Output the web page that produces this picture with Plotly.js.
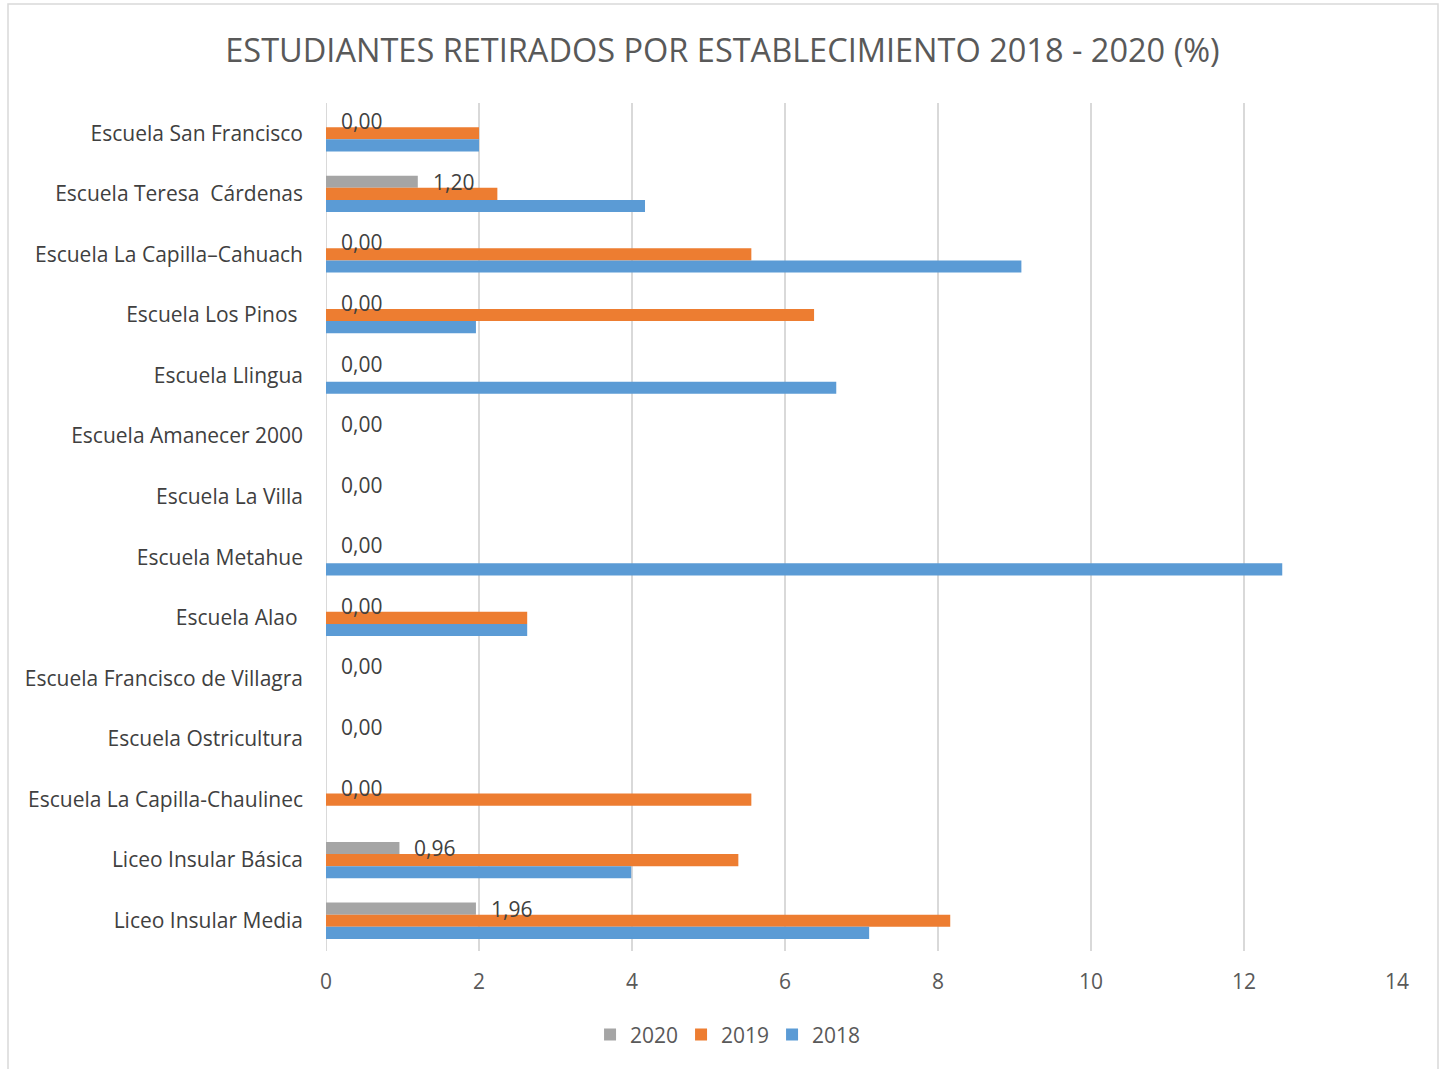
<!DOCTYPE html>
<html><head><meta charset="utf-8">
<script src="https://cdn.plot.ly/plotly-3.0.1.min.js"></script>
<style>html,body{margin:0;padding:0;background:#fff;}#chart{width:1445px;height:1069px;}</style>
</head><body><div id="chart"></div>
<script>
const categories = ["Escuela San Francisco","Escuela Teresa  Cárdenas","Escuela La Capilla–Cahuach","Escuela Los Pinos ","Escuela Llingua","Escuela Amanecer 2000","Escuela La Villa","Escuela Metahue","Escuela Alao ","Escuela Francisco de Villagra","Escuela Ostricultura","Escuela La Capilla-Chaulinec","Liceo Insular Básica","Liceo Insular Media"];
const v2020 = [0,1.20,0,0,0,0,0,0,0,0,0,0,0.96,1.96];
const v2019 = [2.00,2.24,5.56,6.38,0,0,0,0,2.63,0,0,5.56,5.39,8.16];
const v2018 = [2.00,4.17,9.09,1.96,6.67,0,0,12.50,2.63,0,0,0,3.99,7.10];
const labels2020 = v2020.map(v => v.toFixed(2).replace('.', ','));
const xTicks = [0,2,4,6,8,10,12,14];

const FONT = "'Open Sans', sans-serif";
const traces = [
  {type:'bar', orientation:'h', name:'2020', y:categories, x:v2020, marker:{color:'#a5a5a5'}, hoverinfo:'x'},
  {type:'bar', orientation:'h', name:'2019', y:categories, x:v2019, marker:{color:'#ed7d31'}, hoverinfo:'x'},
  {type:'bar', orientation:'h', name:'2018', y:categories, x:v2018, marker:{color:'#5b9bd5'}, hoverinfo:'x'}
];
const annotations = categories.map((c,i) => ({
  x: v2020[i], y: c, xref:'x', yref:'y', text: labels2020[i], showarrow:false,
  xanchor:'left', yanchor:'middle', xshift:13, yshift:12,
  font:{family:FONT, size:21, color:'#404040'}
}));
const layout = {
  width:1445, height:1069,
  margin:{l:326, r:48, t:103, b:118},
  paper_bgcolor:'#ffffff', plot_bgcolor:'#ffffff',
  font:{family:FONT, color:'#595959'},
  title:{text:'ESTUDIANTES RETIRADOS POR ESTABLECIMIENTO 2018 - 2020 (%)', x:0.5, xanchor:'center', y:0.953, yanchor:'middle', font:{family:FONT, size:32.5, color:'#595959'}},
  barmode:'group', bargap:0.4, bargroupgap:0,
  xaxis:{range:[0,14], tickvals:xTicks, ticktext:xTicks.map(String), showgrid:true, gridcolor:'#d9d9d9', gridwidth:2, zeroline:false, showline:false, ticks:'', tickfont:{family:FONT, size:21, color:'#595959'}, ticklabelstandoff:16, fixedrange:true},
  yaxis:{type:'category', autorange:'reversed', showgrid:false, zeroline:false, showline:false, ticks:'', tickfont:{family:FONT, size:21, color:'#404040'}, ticklabelstandoff:22, fixedrange:true},
  shapes:[
    {type:'line', xref:'x', yref:'paper', x0:0, x1:0, y0:0, y1:1, line:{color:'#d9d9d9', width:2}, layer:'below'},
    {type:'rect', xref:'paper', yref:'paper', x0:-318/1071, x1:1112/1071, y0:-200/848, y1:(951-4)/848, line:{color:'#d9d9d9', width:1.5}, fillcolor:'rgba(0,0,0,0)'}
  ],
  legend:{orientation:'h', x:0.374, xanchor:'center', y:-0.099, yanchor:'middle', traceorder:'normal', font:{family:FONT, size:21, color:'#595959'}, itemwidth:30, entrywidth:46},
  annotations: annotations,
  showlegend:true
};
Plotly.newPlot('chart', traces, layout, {displayModeBar:false, staticPlot:true});
</script></body></html>
